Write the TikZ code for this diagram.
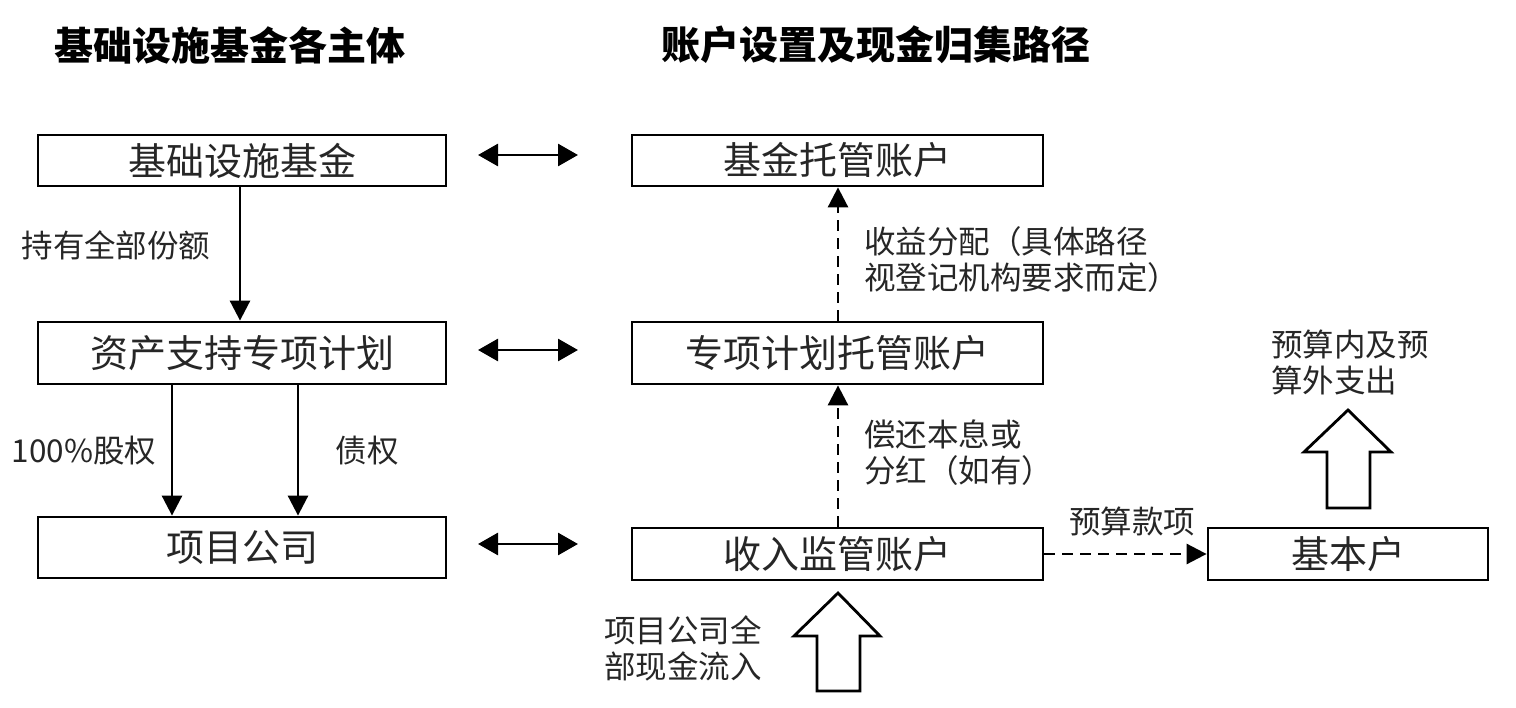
\documentclass[tikz,border=0pt]{standalone}
\usepackage{fontspec}
\setmainfont{Noto Sans CJK SC}
\usetikzlibrary{arrows.meta}
\begin{document}
\begin{tikzpicture}[x=1pt,y=-1pt,
  box/.style={draw=black,line width=2.8pt,minimum height=51pt,inner sep=0pt,font=\fontsize{38}{44}\selectfont,text=black!85},
  lbl/.style={font=\fontsize{31.5}{36}\selectfont,text=black!85,inner sep=0pt,align=left},
  ttl/.style={font=\fontsize{39}{44}\selectfont\bfseries,inner sep=0pt},
  solidarr/.style={line width=2.8pt,-{Triangle[width=20pt,length=20pt]}},
  dasharr/.style={line width=2.8pt,dash pattern=on 11pt off 7pt,-{Triangle[width=20pt,length=20pt]}},
  dblarr/.style={line width=2.8pt,{Triangle[width=22pt,length=20pt]}-{Triangle[width=22pt,length=20pt]}},
  blockarr/.style={draw=black,line width=2.8pt,fill=white,line join=miter}]
\useasboundingbox (0,0) rectangle (1516,708);

% titles
\node[ttl] (t1) at (230,45) {基础设施基金各主体};
\node[ttl] (t2) at (876,45) {账户设置及现金归集路径};

% left boxes
\node[box,minimum width=408pt] (f) at (242,160.5) {基础设施基金};
\node[box,minimum width=408pt,minimum height=62pt] (abs) at (242,353) {资产支持专项计划};
\node[box,minimum width=408pt,minimum height=61pt] (pc) at (242,547.5) {项目公司};

% right boxes
\node[box,minimum width=411pt] (fa) at (837.5,160.5) {基金托管账户};
\node[box,minimum width=411pt,minimum height=62pt] (aa) at (837.5,353) {专项计划托管账户};
\node[box,minimum width=411pt,minimum height=52pt] (ra) at (837.5,554) {收入监管账户};
\node[box,minimum width=280pt,minimum height=52pt] (ba) at (1348,554) {基本户};

% double arrows
\coordinate (d1a) at (478,155); \coordinate (d1b) at (578,155);
\coordinate (d2a) at (478,350); \coordinate (d2b) at (578,350);
\coordinate (d3a) at (478,544); \coordinate (d3b) at (578,544);
\draw[dblarr] (d1a) -- (d1b);
\draw[dblarr] (d2a) -- (d2b);
\draw[dblarr] (d3a) -- (d3b);

% left solid arrows
\draw[solidarr] (f.south -| 240,0) -- (abs.north -| 240,0);
\draw[solidarr] (abs.south -| 172,0) -- (pc.north -| 172,0);
\draw[solidarr] (abs.south -| 298,0) -- (pc.north -| 298,0);
\node[lbl] (l1) at (116,245) {持有全部份额};
\node[lbl] (l2) at (84,451) {100\%股权};
\node[lbl] (l3) at (367,451) {债权};

% right dashed arrows
\draw[dasharr] (ra.north -| 838,0) -- (aa.south -| 838,0);
\draw[dasharr] (aa.north -| 838,0) -- (fa.south -| 838,0);
\node[lbl,anchor=west] (l4) at (864,260) {收益分配（具体路径\\视登记机构要求而定）};
\node[lbl,anchor=west] (l5) at (864,453) {偿还本息或\\分红（如有）};
\draw[dasharr] (ra.east) -- (ba.west);
\node[lbl] (l6) at (1132,521) {预算款项};

% block arrows
\draw[blockarr] (838,593) -- (880,636) -- (860,636) -- (860,691) -- (817,691) -- (817,636) -- (794,636) -- cycle;
\node[lbl,anchor=west] (l7) at (604,648) {项目公司全\\部现金流入};
\draw[blockarr] (1348,410) -- (1391,452) -- (1370,452) -- (1370,508) -- (1327,508) -- (1327,452) -- (1304,452) -- cycle;
\node[lbl,anchor=west] (l8) at (1271,362) {预算内及预\\算外支出};
\end{tikzpicture}
\end{document}
